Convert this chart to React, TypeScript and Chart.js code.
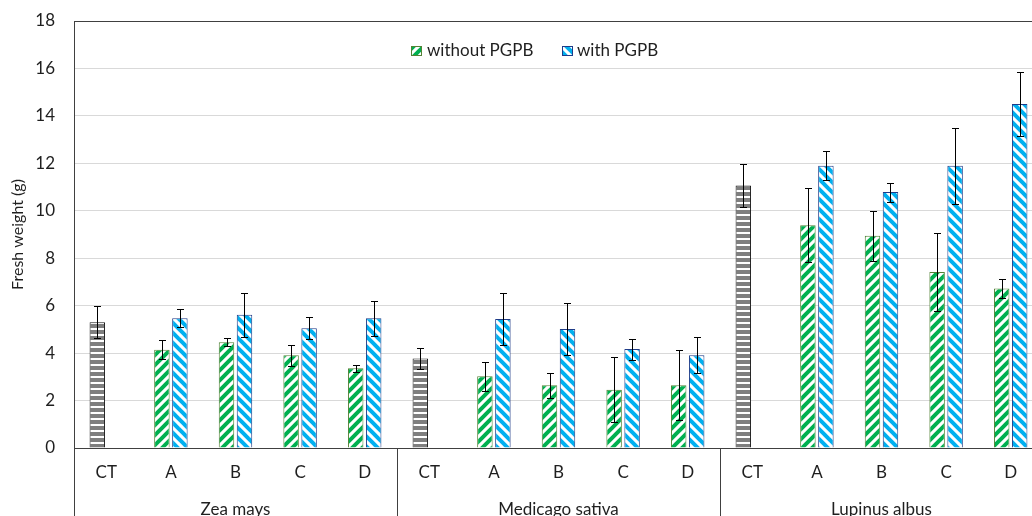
import React, { useEffect, useRef } from 'react';
import { Chart, registerables } from 'chart.js';

Chart.register(...registerables);

const categories = ['CT', 'A', 'B', 'C', 'D', 'CT', 'A', 'B', 'C', 'D', 'CT', 'A', 'B', 'C', 'D'];
const groups = ['Zea mays', 'Medicago sativa', 'Lupinus albus'];
const seriesNames = ['without PGPB', 'with PGPB'];
const withoutPGPB = [5.3, 4.14, 4.46, 3.91, 3.36, 3.77, 3.02, 2.64, 2.46, 2.64, 11.07, 9.39, 8.95, 7.42, 6.72];
const withoutErr = [0.67, 0.4, 0.16, 0.45, 0.15, 0.46, 0.6, 0.52, 1.38, 1.48, 0.92, 1.55, 1.06, 1.63, 0.41];
const withPGPB = [null, 5.47, 5.62, 5.05, 5.47, null, 5.44, 5.02, 4.17, 3.91, null, 11.9, 10.79, 11.9, 14.5];
const withErr = [null, 0.39, 0.93, 0.47, 0.73, null, 1.1, 1.09, 0.44, 0.76, null, 0.6, 0.4, 1.6, 1.35];
const yMin = 0;
const yMax = 18;
const yStep = 2;

const FONT = 'Lato, "Open Sans", sans-serif';
const TEXT = '#1f1f1f';

function stripePattern(color: string, dir: 'up' | 'down'): CanvasPattern | string {
  const s = 10;
  const c = document.createElement('canvas');
  c.width = s;
  c.height = s;
  const g = c.getContext('2d');
  if (!g) return color;
  g.fillStyle = '#ffffff';
  g.fillRect(0, 0, s, s);
  g.strokeStyle = color;
  g.lineWidth = 4;
  g.lineCap = 'square';
  const lines = dir === 'up'
    ? [[-s, s, s, -s], [0, s, s, 0], [0, 2 * s, 2 * s, 0]]
    : [[-s, 0, s, 2 * s], [0, 0, s, s], [0, -s, 2 * s, s]];
  for (const [x1, y1, x2, y2] of lines) {
    g.beginPath();
    g.moveTo(x1, y1);
    g.lineTo(x2, y2);
    g.stroke();
  }
  const p = g.createPattern(c, 'repeat');
  return p || color;
}

function hStripePattern(color: string): CanvasPattern | string {
  const c = document.createElement('canvas');
  c.width = 4;
  c.height = 6;
  const g = c.getContext('2d');
  if (!g) return color;
  g.fillStyle = '#ffffff';
  g.fillRect(0, 0, 4, 6);
  g.fillStyle = color;
  g.fillRect(0, 0, 4, 4);
  const p = g.createPattern(c, 'repeat');
  return p || color;
}

export default function App() {
  const ref = useRef<HTMLCanvasElement | null>(null);

  useEffect(() => {
    const canvas = ref.current;
    if (!canvas) return;
    const greenPat = stripePattern('#00b050', 'up');
    const bluePat = stripePattern('#00b0f0', 'down');
    const grayPat = hStripePattern('#7f7f7f');
    const isCT = (i: number) => categories[i] === 'CT';

    const errors = [withoutErr, withErr];

    const errorBars = {
      id: 'errorBars',
      afterDatasetsDraw(chart: any) {
        const ctx = chart.ctx;
        const y = chart.scales.y;
        ctx.save();
        ctx.strokeStyle = '#000000';
        ctx.lineWidth = 1;
        chart.data.datasets.forEach((ds: any, di: number) => {
          const meta = chart.getDatasetMeta(di);
          meta.data.forEach((el: any, i: number) => {
            const v = ds.data[i];
            const e = errors[di][i];
            if (v == null || e == null) return;
            const x = Math.round(el.x) + 0.5;
            const yt = Math.round(y.getPixelForValue(v + e)) + 0.5;
            const yb = Math.round(y.getPixelForValue(v - e)) + 0.5;
            ctx.beginPath();
            ctx.moveTo(x, yt);
            ctx.lineTo(x, yb);
            ctx.moveTo(x - 3.5, yt);
            ctx.lineTo(x + 3.5, yt);
            ctx.moveTo(x - 3.5, yb);
            ctx.lineTo(x + 3.5, yb);
            ctx.stroke();
          });
        });
        ctx.restore();
      },
    };

    const separators = {
      id: 'separators',
      afterDraw(chart: any) {
        const ctx = chart.ctx;
        const xs = chart.scales.x;
        const bottom = chart.chartArea.bottom;
        const positions: number[] = [xs.left];
        for (let i = 1; i < categories.length; i++) {
          if (categories[i] === 'CT') {
            positions.push((xs.getPixelForValue(i - 1) + xs.getPixelForValue(i)) / 2);
          }
        }
        positions.push(xs.right);
        ctx.save();
        ctx.strokeStyle = '#404040';
        ctx.lineWidth = 1;
        positions.forEach((px) => {
          const x = Math.round(px) + 0.5;
          ctx.beginPath();
          ctx.moveTo(x, bottom);
          ctx.lineTo(x, chart.height);
          ctx.stroke();
        });
        ctx.restore();
      },
    };

    const customLegend = {
      id: 'customLegend',
      afterDraw(chart: any) {
        const ctx = chart.ctx;
        const items = [
          { text: seriesNames[0], fill: greenPat, stroke: '#548235', bx: 411, tx: 427 },
          { text: seriesNames[1], fill: bluePat, stroke: '#1f3c88', bx: 562, tx: 577 },
        ];
        const cy = 51;
        ctx.save();
        items.forEach((it) => {
          ctx.fillStyle = it.fill;
          ctx.fillRect(it.bx, cy - 5, 11, 10);
          ctx.strokeStyle = it.stroke;
          ctx.lineWidth = 1;
          ctx.strokeRect(it.bx + 0.5, cy - 4.5, 10, 9);
          ctx.fillStyle = TEXT;
          ctx.font = `17px ${FONT}`;
          ctx.textBaseline = 'middle';
          ctx.textAlign = 'left';
          ctx.fillText(it.text, it.tx, cy);
        });
        ctx.restore();
      },
    };

    const zeroPad = (s: any) => {
      s.paddingTop = 0;
      s.paddingBottom = 0;
      s.paddingLeft = 0;
      s.paddingRight = 0;
    };

    const chart = new Chart(canvas, {
      type: 'bar',
      data: {
        labels: categories,
        datasets: [
          {
            label: seriesNames[0],
            data: withoutPGPB,
            backgroundColor: withoutPGPB.map((_, i) => (isCT(i) ? grayPat : greenPat)) as any,
            borderColor: withoutPGPB.map((_, i) => (isCT(i) ? '#1a1a1a' : '#548235')),
            borderWidth: 1,
            categoryPercentage: 0.557,
            barPercentage: 0.86,
          },
          {
            label: seriesNames[1],
            data: withPGPB,
            backgroundColor: bluePat as any,
            borderColor: '#1f3c88',
            borderWidth: 1,
            categoryPercentage: 0.557,
            barPercentage: 0.86,
          },
        ],
      },
      options: {
        animation: false,
        responsive: false,
        maintainAspectRatio: false,
        layout: { padding: { top: 21, left: 0, right: 0, bottom: 0 } },
        plugins: {
          legend: { display: false },
          tooltip: { enabled: false },
        },
        scales: {
          x: {
            type: 'category',
            position: 'bottom',
            weight: 0,
            grid: { display: false, drawTicks: false },
            border: { display: true, color: '#404040', width: 1 },
            ticks: {
              color: TEXT,
              font: { family: FONT, size: 17 },
              padding: 14,
              maxRotation: 0,
              autoSkip: false,
            },
            afterFit: (s: any) => {
              s.height = 40;
              zeroPad(s);
            },
          },
          x2: {
            type: 'category',
            labels: groups,
            position: 'bottom',
            weight: 1,
            offset: true,
            grid: { display: false, drawTicks: false },
            border: { display: false },
            ticks: {
              color: TEXT,
              font: { family: FONT, size: 17 },
              padding: 11,
              maxRotation: 0,
              autoSkip: false,
            },
            afterFit: (s: any) => {
              s.height = 42;
              zeroPad(s);
            },
          },
          y: {
            min: yMin,
            max: yMax,
            ticks: {
              stepSize: yStep,
              color: TEXT,
              font: { family: FONT, size: 17 },
              padding: 19,
            },
            grid: {
              drawTicks: false,
              color: (c: any) => (c.tick && c.tick.value === yMax ? '#404040' : '#d9d9d9'),
              lineWidth: 1,
            },
            border: { display: true, color: '#404040', width: 1 },
            title: {
              display: true,
              text: 'Fresh weight (g)',
              color: TEXT,
              font: { family: FONT, size: 16 },
              padding: { top: 8, bottom: 0 },
            },
            afterFit: (s: any) => {
              s.width = 74;
              zeroPad(s);
            },
          },
        },
      },
      plugins: [errorBars, separators, customLegend],
    } as any);

    return () => {
      chart.destroy();
    };
  }, []);

  return (
    <div
      style={{
        position: 'fixed',
        left: 0,
        top: 0,
        width: 1032,
        height: 516,
        overflow: 'hidden',
        background: '#ffffff',
      }}
    >
      <canvas ref={ref} width={1043} height={530} style={{ display: 'block', width: 1043, height: 530 }} />
    </div>
  );
}
